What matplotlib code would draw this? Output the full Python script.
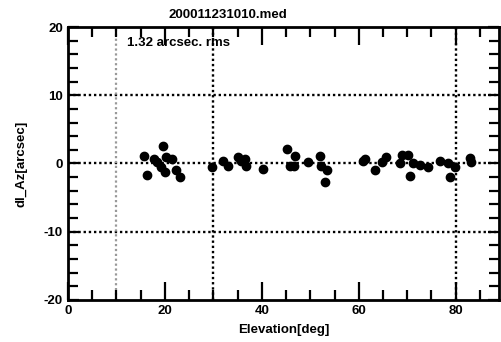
import numpy as np
import matplotlib.pyplot as plt
from matplotlib.ticker import MultipleLocator

plt.rcParams['font.family'] = ['Liberation Sans', 'DejaVu Sans']
plt.rcParams['font.weight'] = 'bold'
plt.rcParams['axes.unicode_minus'] = False

title = "200011231010.med"
rms_text = "1.32 arcsec. rms"

elevation = [15.7, 16.2, 17.7, 18.3, 19.7, 19.1, 20.0, 20.3, 21.4, 22.3, 23.2,
             29.8, 32.0, 33.1, 35.1, 35.8, 36.5, 36.8, 40.3, 45.1, 46.8, 45.8,
             46.6, 49.5, 52.0, 52.3, 53.5, 53.0, 60.9, 61.2, 63.3, 64.7, 65.7,
             68.5, 69.0, 70.2, 70.5, 71.2, 72.6, 74.3, 76.7, 78.4, 78.8, 79.8,
             82.9, 83.2]
dl_az = [1.07, -1.76, 0.7, 0.2, 2.6, -0.5, -1.3, 0.9, 0.7, -1.0, -2.0,
         -0.5, 0.4, -0.3, 0.9, 0.4, 0.7, -0.3, -0.8, 2.05, 1.07, -0.3,
         -0.3, 0.2, 1.07, -0.3, -1.0, -2.7, 0.4, 0.6, -1.0, 0.2, 0.9,
         0.0, 1.3, 1.3, -1.9, 0.0, -0.2, -0.5, 0.4, 0.0, -2.0, -0.5,
         0.8, 0.2]

fig = plt.figure(figsize=(5.01, 3.42), dpi=100)
ax = fig.add_axes([0.1357, 0.123, 0.861, 0.798])

dots = (0, (1, 1.2))
for yv in [10, 0, -10]:
    ax.axhline(yv, color='black', lw=1.7, ls=dots, zorder=1)
for xv in [30, 80]:
    ax.axvline(xv, color='black', lw=1.7, ls=dots, zorder=1)
ax.axvline(10, color='#999999', lw=1.6, ls=dots, zorder=1)

ax.plot(elevation, dl_az, 'o', color='black', ms=6, zorder=3)

ax.set_xlim(0, 89)
ax.set_ylim(-20, 20)
ax.xaxis.set_major_locator(MultipleLocator(20))
ax.xaxis.set_minor_locator(MultipleLocator(5))
ax.yaxis.set_major_locator(MultipleLocator(10))
ax.yaxis.set_minor_locator(MultipleLocator(2))
ax.tick_params(which='both', direction='in', top=True, right=True,
               width=1.6, labelsize=9.5)
ax.tick_params(axis='x', which='major', length=13)
ax.tick_params(axis='x', which='minor', length=7)
ax.tick_params(axis='y', which='major', length=8)
ax.tick_params(axis='y', which='minor', length=7)
for s in ax.spines.values():
    s.set_linewidth(2)

ax.set_xlabel("Elevation[deg]", fontsize=9.5, fontweight='bold', labelpad=5)
ax.set_ylabel("dl_Az[arcsec]", fontsize=9.5, fontweight='bold', labelpad=12)
fig.text(228 / 501, 1 - 15 / 342, title, ha='center', va='center',
         fontsize=9.5, fontweight='bold')
ax.text(0.137, 0.965, rms_text, transform=ax.transAxes, ha='left', va='top',
        fontsize=9.5, fontweight='bold')

fig.savefig("out.png", dpi=100)
